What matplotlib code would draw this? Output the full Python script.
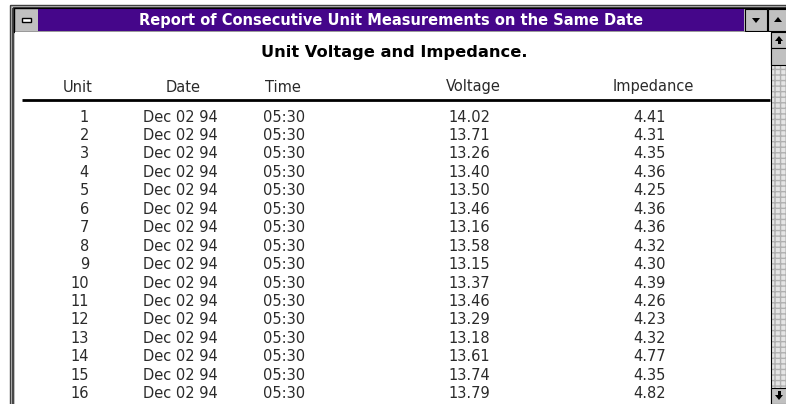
import matplotlib.pyplot as plt
from matplotlib.patches import Rectangle, Polygon

# data of the report
units = list(range(1, 17))
dates = ["Dec 02 94"] * 16
times = ["05:30"] * 16
voltage = [14.02, 13.71, 13.26, 13.40, 13.50, 13.46, 13.16, 13.58,
           13.15, 13.37, 13.46, 13.29, 13.18, 13.61, 13.74, 13.79]
impedance = [4.41, 4.31, 4.35, 4.36, 4.25, 4.36, 4.36, 4.32,
             4.30, 4.39, 4.26, 4.23, 4.32, 4.77, 4.35, 4.82]
headers = ["Unit", "Date", "Time", "Voltage", "Impedance"]
window_title = "Report of Consecutive Unit Measurements on the Same Date"
report_title = "Unit Voltage and Impedance."

plt.rcParams['font.family'] = ['DejaVu Sans']

W, H = 786, 404
fig = plt.figure(figsize=(W / 100, H / 100), dpi=100)
ax = fig.add_axes([0, 0, 1, 1])
ax.set_xlim(0, W)
ax.set_ylim(H, 0)
ax.axis("off")

# window frame
ax.add_patch(Rectangle((0, 0), W, H, fc="white", ec="none"))
ax.add_patch(Rectangle((10, 5), W - 10, H, fc="#c0c0c0", ec="none"))
ax.add_patch(Rectangle((10, 5), W - 10, H, fc="none", ec="#404040", lw=1))
ax.add_patch(Rectangle((12.5, 7.5), W, H, fc="none", ec="#303030", lw=1.2))
# title bar
ax.add_patch(Rectangle((14, 8), W - 14, 24, fc="#c0c0c0", ec="#000000", lw=1))
ax.add_patch(Rectangle((38, 9), 706, 22, fc="#45068a", ec="none", lw=0))
ax.text(391, 20, window_title, color="white", fontsize=10.5, fontweight="bold",
        ha="center", va="center")
# system menu box
ax.add_patch(Rectangle((22, 17.5), 9, 4, fc="white", ec="black", lw=1))
# min / max buttons
for bx in (745, 768):
    ax.add_patch(Rectangle((bx, 9), 22, 22, fc="#c0c0c0", ec="black", lw=0.8))
ax.add_patch(Polygon([[752, 18], [760, 18], [756, 23]], fc="black"))
ax.add_patch(Polygon([[774, 22], [782, 22], [778, 17]], fc="black"))

# client area
ax.add_patch(Rectangle((15, 32), 756, H - 32, fc="white", ec="none"))
# vertical scrollbar
ax.add_patch(Rectangle((771, 32), 16, H - 32, fc="#e4e4e4", ec="#b0b0b0", lw=0,
                       hatch="+++"))
ax.add_patch(Rectangle((771, 32), 16, H - 32, fc="none", ec="black", lw=0.8))
ax.add_patch(Rectangle((771, 32), 16, 16, fc="#c0c0c0", ec="black", lw=0.8))
ax.add_patch(Rectangle((771, 48), 16, 17, fc="#c0c0c0", ec="black", lw=0.8))
ax.add_patch(Rectangle((771, 388), 16, 16, fc="#c0c0c0", ec="black", lw=0.8))
ax.add_patch(Polygon([[775, 41], [783, 41], [779, 36]], fc="black"))
ax.add_patch(Rectangle((777.5, 40), 3, 4, fc="black", ec="none"))
ax.add_patch(Polygon([[775, 395], [783, 395], [779, 400]], fc="black"))
ax.add_patch(Rectangle((777.5, 391), 3, 4, fc="black", ec="none"))

# report title and column headers
ax.text(394, 52, report_title, fontsize=11.7, fontweight="bold",
        ha="center", va="center", color="black")
header_x = [78, 183, 283, 473, 653]
for hx, h in zip(header_x, headers):
    ax.text(hx, 87, h, fontsize=10.5, ha="center", va="center", color="#2a2a2a")
ax.plot([22, 770], [99.5, 99.5], color="black", lw=2, solid_capstyle="butt")

# rows
row_y0, row_dy = 117, 18.45
for i in range(len(units)):
    y = row_y0 + i * row_dy
    ax.text(89, y, str(units[i]), fontsize=10.5, ha="right", va="center",
            color="#2a2a2a")
    ax.text(143, y, dates[i], fontsize=10.5, ha="left", va="center",
            color="#2a2a2a")
    ax.text(263, y, times[i], fontsize=10.5, ha="left", va="center",
            color="#2a2a2a")
    ax.text(448, y, f"{voltage[i]:.2f}", fontsize=10.5, ha="left", va="center",
            color="#2a2a2a")
    ax.text(633, y, f"{impedance[i]:.2f}", fontsize=10.5, ha="left", va="center",
            color="#2a2a2a")

fig.savefig("out.png", dpi=100)
